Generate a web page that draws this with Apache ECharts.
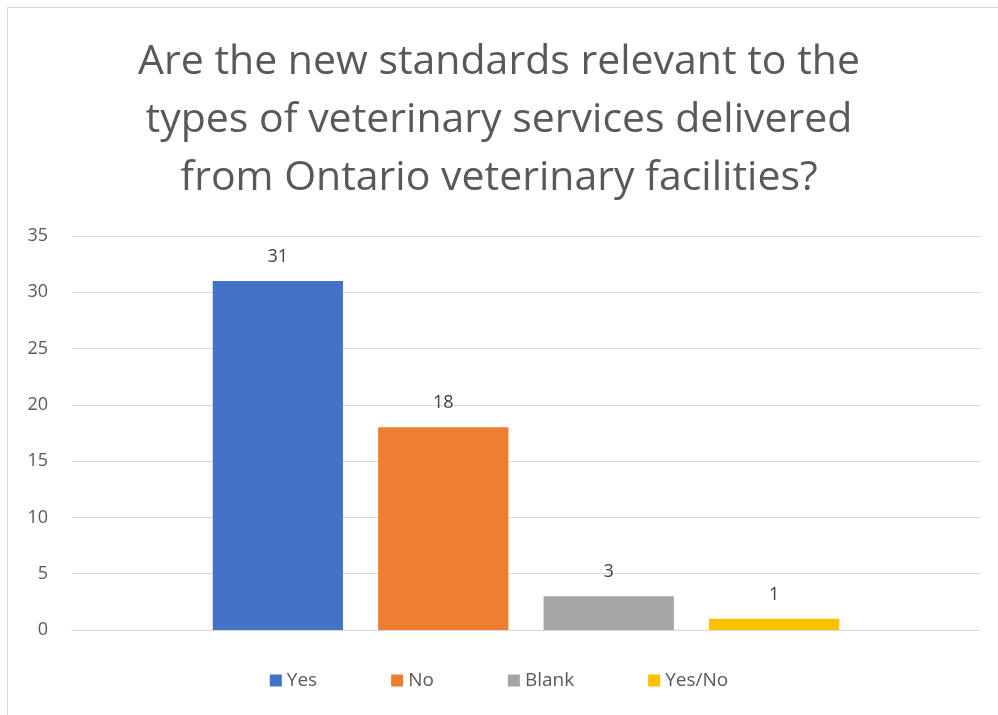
<!DOCTYPE html>
<html>
<head>
<meta charset="utf-8">
<script src="https://cdn.jsdelivr.net/npm/echarts@6/dist/echarts.min.js"></script>
<style>
  html, body { margin: 0; padding: 0; background: #fff; }
  #chart { width: 998px; height: 715px; }
</style>
</head>
<body>
<div id="chart"></div>
<script>
// data
const categories = [''];
const seriesNames = ['Yes', 'No', 'Blank', 'Yes/No'];
const seriesValues = [31, 18, 3, 1];
const seriesColors = ['#4472C4', '#ED7D31', '#A5A5A5', '#FFC000'];
const titleText = 'Are the new standards relevant to the\ntypes of veterinary services delivered\nfrom Ontario veterinary facilities?';

document.addEventListener('DOMContentLoaded', function() {
  const chart = echarts.init(document.getElementById('chart'));
  const series = seriesNames.map(function(name, i) {
    return {
      name: name,
      type: 'bar',
      data: [seriesValues[i]],
      barGap: '27%',
      barCategoryGap: '31%',
      itemStyle: { color: seriesColors[i] },
      label: {
        show: true,
        position: 'top',
        distance: 15,
        color: '#404040',
        fontSize: 18,
        fontFamily: 'Open Sans'
      }
    };
  });
  const option = {
    animation: false,
    backgroundColor: '#fff',
    graphic: [{
      type: 'rect',
      shape: { x: 7.5, y: 7.5, width: 1000, height: 720 },
      style: { fill: null, stroke: '#d9d9d9', lineWidth: 1 },
      silent: true
    }],
    title: {
      text: titleText,
      left: 'center',
      top: 28,
      padding: [5, 5, 5, 25],
      textStyle: {
        fontFamily: 'Open Sans',
        fontSize: 41,
        fontWeight: 'normal',
        color: '#595959',
        lineHeight: 58
      }
    },
    legend: {
      data: seriesNames,
      bottom: 20,
      left: 'center',
      itemWidth: 12,
      itemHeight: 12,
      itemGap: 74,
      icon: 'rect',
      textStyle: { color: '#595959', fontSize: 19, fontFamily: 'Open Sans' }
    },
    grid: { left: 72, right: 18, top: 236, bottom: 85 },
    xAxis: {
      type: 'category',
      data: categories,
      axisLine: { show: true, lineStyle: { color: '#d9d9d9' } },
      axisTick: { show: false },
      axisLabel: { show: false }
    },
    yAxis: {
      type: 'value',
      min: 0,
      max: 35,
      interval: 5,
      axisLine: { show: false },
      axisTick: { show: false },
      splitLine: { lineStyle: { color: '#d9d9d9', width: 1 } },
      axisLabel: { color: '#595959', fontSize: 18, fontFamily: 'Open Sans', margin: 24 }
    },
    series: series
  };
  chart.setOption(option);
});
</script>
</body>
</html>
